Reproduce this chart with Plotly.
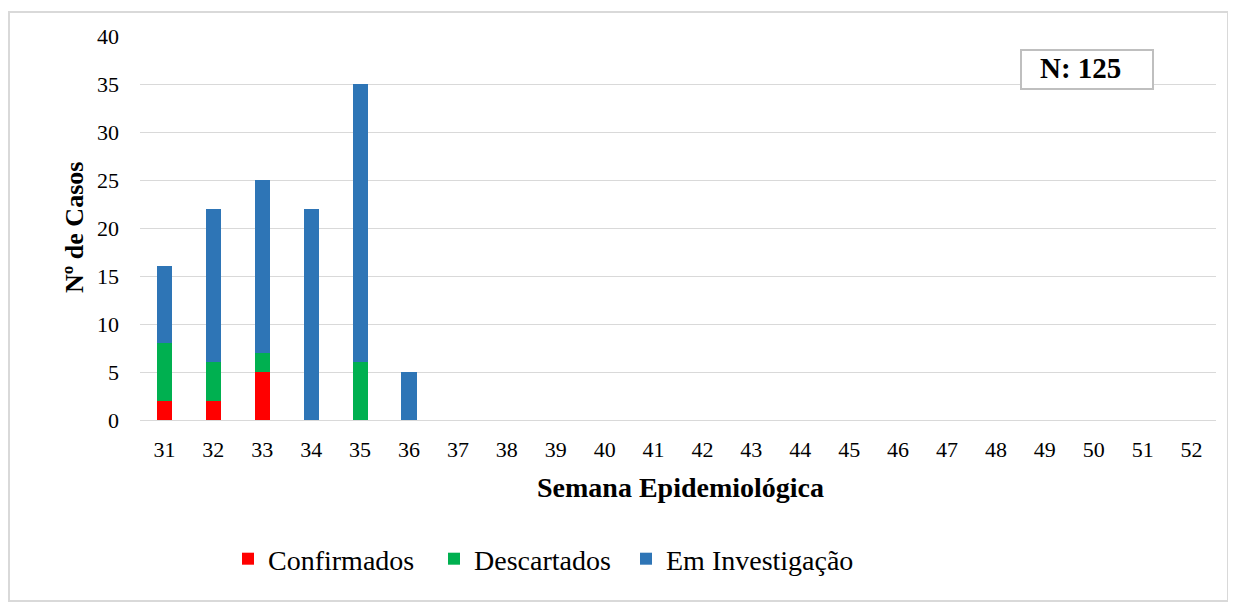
import plotly.graph_objects as go

semanas = [str(s) for s in range(31, 53)]
confirmados = [2, 2, 5, 0, 0, 0] + [0] * 16
descartados = [6, 4, 2, 0, 6, 0] + [0] * 16
investigacao = [8, 16, 18, 22, 29, 5] + [0] * 16
y_ticks = [0, 5, 10, 15, 20, 25, 30, 35, 40]

FONT = "Liberation Serif"
OFF = 8  # browser body margin
W, H = 1236 - OFF, 607 - OFF
L, R, T, B = 140 - OFF, W - (1216 - OFF), 36 - OFF, H - (420 - OFF)
PW, PH = W - L - R, H - T - B

def px(x):
    return (x - OFF - L) / PW

def py(y):
    return (H - B - (y - OFF)) / PH

fig = go.Figure()
series = [("Confirmados", confirmados, "#FF0000", "legend", 228),
          ("Descartados", descartados, "#00B050", "legend2", 434),
          ("Em Investigação", investigacao, "#2E75B6", "legend3", 626)]
legends = {}
for name, vals, col, lg, lx in series:
    fig.add_trace(go.Bar(x=semanas, y=vals, name=name, marker=dict(color=col, line=dict(width=0)),
                         width=0.31, legend=lg))
    legends[lg] = dict(orientation="h", x=px(lx), xanchor="left", y=py(559), yanchor="middle",
                       font=dict(size=28, family=FONT, color="black"), itemwidth=30,
                       bgcolor="rgba(0,0,0,0)")

fig.update_layout(
    barmode="stack",
    width=W, height=H,
    margin=dict(l=L, r=R, t=T, b=B),
    paper_bgcolor="white", plot_bgcolor="white",
    font=dict(family=FONT, color="black", size=22),
    showlegend=True,
    xaxis=dict(type="category", tickfont=dict(size=22, family=FONT), showgrid=False,
               showline=True, linecolor="#D9D9D9", linewidth=1, ticks="",
               ticklabelstandoff=10),
    yaxis=dict(range=[0, 40], tickvals=y_ticks, tickfont=dict(size=22, family=FONT),
               showgrid=True, gridcolor="#D9D9D9", gridwidth=1, zeroline=False,
               showline=False, ticks="", ticklabelstandoff=20),
    **legends,
)

fig.add_annotation(text="<b>Semana Epidemiológica</b>", x=px(680), y=py(487), xref="paper", yref="paper",
                   showarrow=False, font=dict(size=28, family=FONT), xanchor="center", yanchor="middle")
fig.add_annotation(text="<b>Nº de Casos</b>", x=px(74), y=py(228), xref="paper", yref="paper",
                   showarrow=False, font=dict(size=26, family=FONT), textangle=-90,
                   xanchor="center", yanchor="middle")
fig.add_shape(type="rect", xref="paper", yref="paper", x0=px(1021), x1=px(1153), y0=py(89), y1=py(50),
              line=dict(color="#BFBFBF", width=2), fillcolor="white", layer="above")
fig.add_annotation(text="<b>N: 125</b>", x=px(1080), y=py(68), xref="paper", yref="paper",
                   showarrow=False, font=dict(size=29, family=FONT), xanchor="center", yanchor="middle")
fig.add_shape(type="rect", xref="paper", yref="paper", x0=px(9), x1=px(1228), y0=py(601), y1=py(12),
              line=dict(color="#D9D9D9", width=2), layer="below")

fig.write_html("out.html")
